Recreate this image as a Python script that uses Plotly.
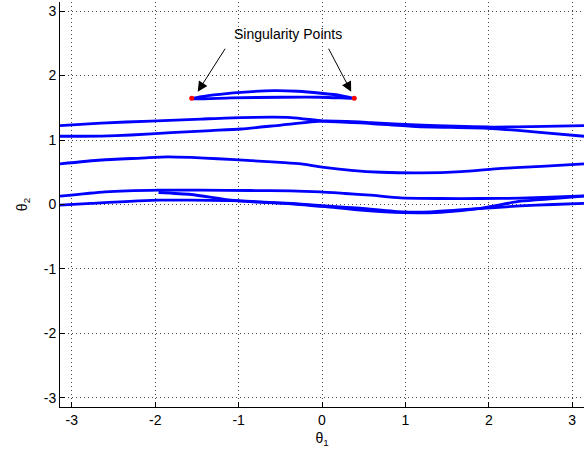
import plotly.graph_objects as go
import math

PI = math.pi

# Upper band (two strands)
p_x = [-PI, -2.65, -2.05, -1.45, -0.97, -0.37, 0.01, 0.59, 1.13, 1.99, 2.51, PI]
p_y = [1.225, 1.264, 1.295, 1.326, 1.349, 1.349, 1.295, 1.256, 1.209, 1.183, 1.132, 1.059]
q_x = [-PI, -2.65, -2.29, -1.81, -1.33, -0.97, -0.49, 0.01, 0.59, 1.13, 1.99, 2.51, PI]
q_y = [1.059, 1.062, 1.078, 1.116, 1.147, 1.171, 1.233, 1.295, 1.271, 1.233, 1.202, 1.209, 1.225]

# Middle curve
m_x = [-PI, -2.65, -2.17, -1.85, -1.57, -1.25, -0.85, -0.45, -0.25, 0.0, 0.35, 0.71, 1.19, 1.67, 2.15, 2.63, PI]
m_y = [0.63, 0.69, 0.72, 0.74, 0.73, 0.71, 0.68, 0.65, 0.63, 0.58, 0.53, 0.50, 0.49, 0.51, 0.56, 0.59, 0.63]

# Lower band strands
s1_x = [-PI, -2.60, -1.96, -1.46, -0.86, -0.38, -0.02, 0.28, 0.58, 0.94, 1.42, 1.90, 2.38, 2.74, PI]
s1_y = [0.129, 0.196, 0.222, 0.222, 0.217, 0.211, 0.196, 0.171, 0.144, 0.102, 0.093, 0.093, 0.098, 0.113, 0.135]
s2_x = [-1.96, -1.57, -1.09, -0.76, -0.37, 0.04, 0.46, 0.98, 1.30, 1.78, 2.38, 2.77, PI]
s2_y = [0.186, 0.155, 0.067, 0.040, 0.016, -0.022, -0.057, -0.115, -0.115, -0.073, -0.022, 0.0, 0.016]
s3_x = [-PI, -2.77, -1.96, -1.57, -1.09, -0.74, -0.37, 0.04, 0.46, 0.98, 1.42, 1.90, 2.38, 2.77, PI]
s3_y = [-0.011, 0.016, 0.067, 0.067, 0.059, 0.036, 0.012, -0.034, -0.088, -0.127, -0.12, -0.059, 0.051, 0.09, 0.129]

# Singular loop
loop_x = [-1.562, -1.295, -0.971, -0.576, -0.291, -0.012, 0.228, 0.387, 0.348, -0.012, -0.492, -1.091, -1.535, -1.562]
loop_y = [1.648, 1.701, 1.741, 1.767, 1.757, 1.726, 1.690, 1.648, 1.648, 1.664, 1.664, 1.654, 1.639, 1.648]

sing_x = [-1.562, 0.387]
sing_y = [1.648, 1.648]

ticks = [-3, -2, -1, 0, 1, 2, 3]

fig = go.Figure()
line_style = dict(color="#0000ff", width=2.8, shape="spline", smoothing=0.6)
for xs, ys in [(p_x, p_y), (q_x, q_y), (m_x, m_y), (s1_x, s1_y), (s2_x, s2_y), (s3_x, s3_y), (loop_x, loop_y)]:
    fig.add_trace(go.Scatter(x=xs, y=ys, mode="lines", line=line_style, showlegend=False, hoverinfo="skip"))

fig.add_trace(go.Scatter(x=sing_x, y=sing_y, mode="markers",
                         marker=dict(color="#ff0000", size=5), showlegend=False))

font = dict(family="Liberation Sans, Arial, sans-serif", size=14, color="#000000")

fig.add_annotation(x=-0.408, y=2.65, text="Singularity Points", showarrow=False,
                   font=font, xref="x", yref="y")
for hx, hy, tx, ty in [(-1.49, 1.75, -1.15, 2.44), (0.35, 1.75, 0.07, 2.44)]:
    fig.add_annotation(x=hx, y=hy, ax=tx, ay=ty, xref="x", yref="y", axref="x", ayref="y",
                       text="", showarrow=True, arrowhead=2, arrowsize=2, arrowwidth=1,
                       arrowcolor="#000000")

axis_common = dict(
    tickvals=ticks, ticktext=[str(t) for t in ticks],
    ticks="inside", ticklen=5, tickcolor="#000000",
    showline=True, linecolor="#000000", linewidth=1,
    showgrid=True, gridcolor="#444444", gridwidth=1, griddash="1px,3px",
    zeroline=False, tickfont=font, mirror=False,
)

fig.update_layout(
    width=588, height=458,
    margin=dict(l=60, r=4, t=2, b=51),
    paper_bgcolor="white", plot_bgcolor="white",
    xaxis=dict(range=[-PI, PI], title=dict(text="θ<sub>1</sub>", font=font, standoff=6), **axis_common),
    yaxis=dict(range=[-PI, PI], title=dict(text="θ<sub>2</sub>", font=font, standoff=12), **axis_common),
    font=font,
)

fig.write_html("out.html")
